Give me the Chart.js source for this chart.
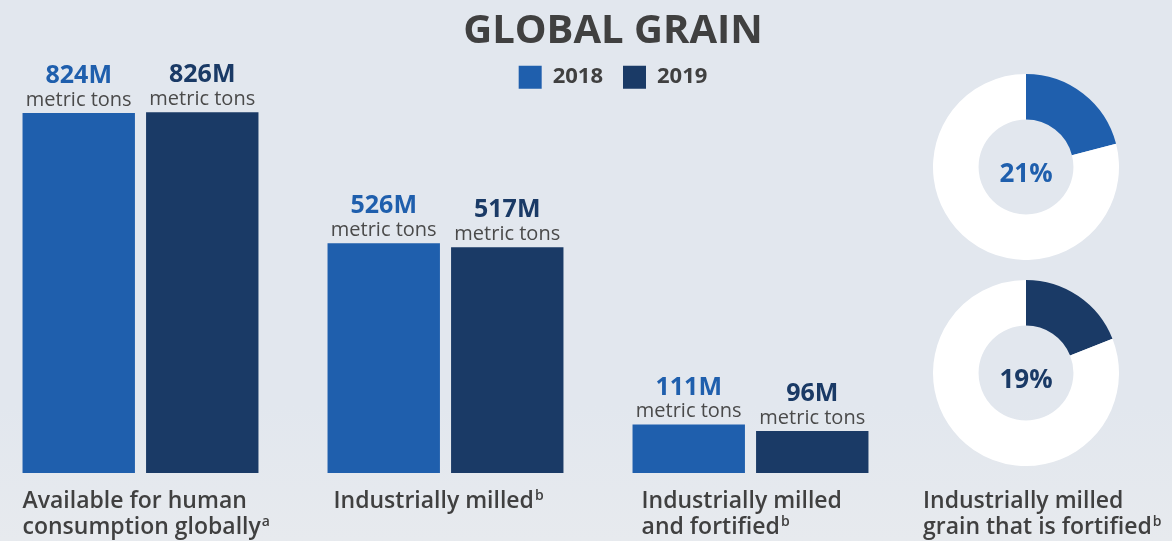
<!DOCTYPE html>
<html>
<head>
<meta charset="utf-8">
<script src="https://cdn.jsdelivr.net/npm/chart.js@4"></script>
<style>
  html, body { margin: 0; padding: 0; width: 1172px; height: 541px; overflow: hidden; }
  body { background: linear-gradient(180deg, #e2e7ee 0%, #e2e7ee 75%, #e7eaee 100%); position: relative; font-family: 'Open Sans', sans-serif; }
  canvas { position: absolute; }
  #barChart { left: -12px; top: 0; }
  #pie1 { left: 915px; top: 60px; }
  #pie2 { left: 915px; top: 270px; }
</style>
</head>
<body>
<canvas id="barChart" width="1250" height="541"></canvas>
<canvas id="pie1" width="257" height="200"></canvas>
<canvas id="pie2" width="257" height="271"></canvas>
<script>
// data
let categories = [['Available for human', 'consumption globally'], ['Industrially milled'], ['Industrially milled', 'and fortified']];
let notes = ['a', 'b', 'b'];
let years = ['2018', '2019'];
let tons2018 = [824, 526, 111];
let tons2019 = [826, 517, 96];
let fortifiedShare = [21, 19];
let pieLabel = ['Industrially milled', 'grain that is fortified'];
let pieNote = 'b';

let blue = '#1f5fad';
let navy = '#1a3a66';
let grey = '#404040';
let font = "'Open Sans', sans-serif";

function drawNoteLines(ctx, lines, note, x, y, lh) {
  ctx.save();
  ctx.fillStyle = grey;
  ctx.textAlign = 'left';
  ctx.textBaseline = 'alphabetic';
  ctx.font = '600 23px ' + font;
  for (let i = 0; i < lines.length; i++) {
    ctx.fillText(lines[i], x, y + i * lh);
  }
  let last = lines[lines.length - 1];
  let w = ctx.measureText(last).width;
  ctx.font = '600 14px ' + font;
  ctx.fillText(note, x + w + 1, y + (lines.length - 1) * lh - 8);
  ctx.restore();
}

let valueLabels = {
  id: 'valueLabels',
  afterDatasetsDraw(chart) {
    let ctx = chart.ctx;
    ctx.save();
    ctx.textAlign = 'center';
    ctx.textBaseline = 'alphabetic';
    chart.data.datasets.forEach((ds, d) => {
      chart.getDatasetMeta(d).data.forEach((bar, i) => {
        ctx.font = 'bold 25px ' + font;
        ctx.fillStyle = ds.backgroundColor;
        ctx.fillText(ds.data[i] + 'M', bar.x, bar.y - 30);
        ctx.font = '20px ' + font;
        ctx.fillStyle = '#4a4a4a';
        ctx.fillText('metric tons', bar.x, bar.y - 7.5);
      });
    });
    ctx.restore();
  }
};

let shift = [0, 6, 9];
let categoryLabels = {
  id: 'categoryLabels',
  afterDraw(chart) {
    let meta = chart.getDatasetMeta(0);
    meta.data.forEach((bar, i) => {
      let left = bar.x - bar.width / 2 + shift[i];
      drawNoteLines(chart.ctx, categories[i], notes[i], left, 508, 26);
    });
  }
};

let ctx = document.getElementById('barChart').getContext('2d');
let myChart = new Chart(ctx, {
  type: 'bar',
  data: {
    labels: categories,
    datasets: [{
      label: years[0],
      data: tons2018,
      backgroundColor: blue,
      borderWidth: 0
    }, {
      label: years[1],
      data: tons2019,
      backgroundColor: navy,
      borderWidth: 0
    }]
  },
  options: {
    responsive: false,
    animation: false,
    events: [],
    categoryPercentage: 0.81,
    barPercentage: 0.91,
    layout: { padding: { left: 0, right: 0, top: 0, bottom: 68 } },
    scales: {
      x: { display: false },
      y: {
        position: 'right',
        min: 0,
        max: 857,
        ticks: { display: false },
        grid: { display: false },
        border: { display: false },
        afterFit(scale) { scale.width = 335; }
      }
    },
    plugins: {
      title: {
        display: true,
        text: 'GLOBAL GRAIN',
        color: grey,
        font: { family: font, size: 40, weight: 'bold', lineHeight: 1.2 },
        padding: { top: 8, bottom: -10.3 }
      },
      legend: {
        display: true,
        labels: {
          color: grey,
          boxWidth: 23,
          boxHeight: 23,
          padding: 20,
          font: { family: font, size: 22, weight: 'bold' }
        }
      },
      tooltip: { enabled: false }
    }
  },
  plugins: [valueLabels, categoryLabels]
});

let centerText = {
  id: 'centerText',
  afterDraw(chart) {
    let arc = chart.getDatasetMeta(0).data[0];
    let ctx = chart.ctx;
    ctx.save();
    ctx.font = 'bold 26px ' + font;
    ctx.fillStyle = chart.data.datasets[0].backgroundColor[0];
    ctx.textAlign = 'center';
    ctx.textBaseline = 'alphabetic';
    ctx.fillText(chart.data.datasets[0].data[0] + '%', arc.x, arc.y + 15);
    ctx.restore();
  }
};

let pieCaption = {
  id: 'pieCaption',
  afterDraw(chart) {
    drawNoteLines(chart.ctx, pieLabel, pieNote, 8, 238, 26);
  }
};

function makePie(id, share, color, pad, extra) {
  return new Chart(document.getElementById(id).getContext('2d'), {
    type: 'doughnut',
    data: {
      labels: ['Fortified', 'Not fortified'],
      datasets: [{
        data: [share, 100 - share],
        backgroundColor: [color, '#ffffff'],
        borderWidth: 0,
        hoverOffset: 0
      }]
    },
    options: {
      responsive: false,
      animation: false,
      events: [],
      cutout: '51%',
      layout: { padding: pad },
      plugins: { legend: { display: false }, tooltip: { enabled: false } }
    },
    plugins: extra
  });
}

let myChart2 = makePie('pie1', fortifiedShare[0], blue, { left: 18, right: 53, top: 14, bottom: 0 }, [centerText]);
let myChart3 = makePie('pie2', fortifiedShare[1], navy, { left: 18, right: 53, top: 10, bottom: 75 }, [centerText, pieCaption]);
</script>
</body>
</html>
